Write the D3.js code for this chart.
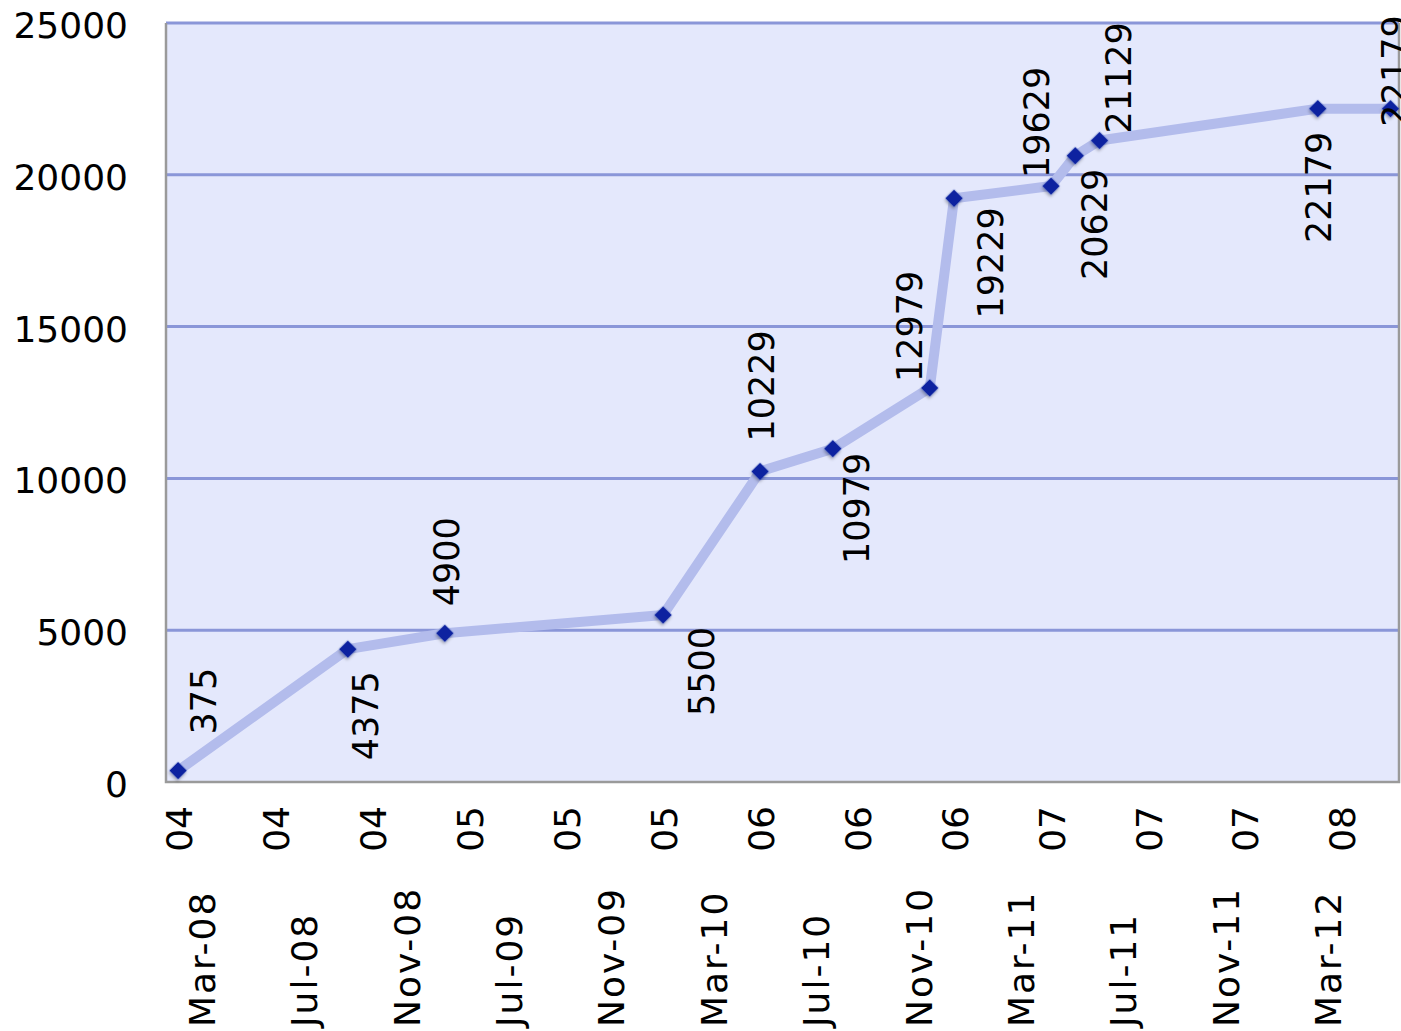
<!DOCTYPE html>
<html>
<head>
<meta charset="utf-8">
<script src="https://cdn.jsdelivr.net/npm/d3@7"></script>
<style>
  body { margin: 0; background: #fff; }
  svg text { font-family: "DejaVu Sans", Verdana, sans-serif; fill: #000; }
</style>
</head>
<body>
<div id="chart"></div>
<script>
// months of each reading (yyyy-mm) and the running total
var months = ["2004-01", "2004-08", "2004-12", "2005-09", "2006-01", "2006-04",
              "2006-08", "2006-09", "2007-01", "2007-02", "2007-03", "2007-12", "2008-03"];
var totals = [375, 4375, 4900, 5500, 10229, 10979, 12979, 19229, 19629, 20629, 21129, 22179, 22179];

// second row of category labels under the axis
var catLabels = ["Mar-08", "Jul-08", "Nov-08", "Jul-09", "Nov-09", "Mar-10",
                 "Jul-10", "Nov-10", "Mar-11", "Jul-11", "Nov-11", "Mar-12"];

var yTicks = [0, 5000, 10000, 15000, 20000, 25000];

// label placement: side of the point, sideways nudge, gap to the point
var labelSide = ["up", "down", "up", "down", "up", "down", "up", "down", "up", "down", "up", "down", "up"];
var labelNudge = [25, 18, 2, 38, 1, 24, -20, 36, -15, 19, 19, 1, 4];
var labelGap = [36, 22, 27, 12, 30, 4, 6, 9, 8, 13, 7, 23, -18];

var width = 1401, height = 1031;
var plotL = 166, plotR = 1399, plotT = 23, plotB = 782;

var svg = d3.select("#chart").append("svg")
    .attr("width", width)
    .attr("height", height);

var defs = svg.append("defs");
var shadow = defs.append("filter").attr("id", "shadow")
    .attr("x", "-50%").attr("y", "-50%").attr("width", "200%").attr("height", "200%");
shadow.append("feDropShadow")
    .attr("dx", 1).attr("dy", 2).attr("stdDeviation", 1.5)
    .attr("flood-color", "#000").attr("flood-opacity", 0.3);

var baseYear = 2004;
var monthIndex = function(s){
    var p = s.split("-");
    return (+p[0] - baseYear) * 12 + (+p[1] - 1);
};

var data = months.map(function(m, i){
    return { m: monthIndex(m), v: totals[i], side: labelSide[i],
             nudge: labelNudge[i], gap: labelGap[i] };
});

var x = d3.scaleLinear()
    .domain([-0.5, 50.35])
    .range([plotL, plotR]);

var y = d3.scaleLinear()
    .domain([0, 25000])
    .range([plotB, plotT]);

// plot background
svg.append("rect")
    .attr("x", plotL).attr("y", plotT)
    .attr("width", plotR - plotL).attr("height", plotB - plotT)
    .attr("fill", "#e4e8fc");

// gridlines
svg.append("g").selectAll("line")
    .data(yTicks.filter(d => d > 0))
    .enter().append("line")
    .attr("x1", plotL).attr("x2", plotR)
    .attr("y1", d => y(d)).attr("y2", d => y(d))
    .attr("stroke", "#8a96d8")
    .attr("stroke-width", 3);

// frame (left, bottom, right)
svg.append("path")
    .attr("d", "M" + plotL + "," + plotT + "V" + plotB + "H" + plotR + "V" + plotT)
    .attr("fill", "none")
    .attr("stroke", "#9a9a9a")
    .attr("stroke-width", 2.5);

// y axis labels
var yAxis = d3.axisLeft(y)
    .tickValues(yTicks)
    .tickSize(0)
    .tickPadding(38)
    .tickFormat(d3.format("d"));

svg.append("g")
    .attr("transform", "translate(" + plotL + ",0)")
    .call(yAxis)
    .call(g => g.select(".domain").remove())
    .selectAll("text")
    .attr("font-size", 36)
    .attr("font-family", "DejaVu Sans, Verdana, sans-serif")
    .attr("fill", "#000")
    .attr("dy", "0.4em");

// x axis: year ticks every four months
var xAxis = d3.axisBottom(x)
    .tickValues(d3.range(0, 49, 4))
    .tickSize(0)
    .tickFormat(d => d3.format("02d")((baseYear + Math.floor(d / 12)) % 100));

svg.append("g")
    .attr("transform", "translate(0," + plotB + ")")
    .call(xAxis)
    .call(g => g.select(".domain").remove())
    .selectAll("text")
    .attr("font-size", 36)
    .attr("font-family", "DejaVu Sans, Verdana, sans-serif")
    .attr("fill", "#000")
    .attr("text-anchor", "end")
    .attr("transform", "rotate(-90)")
    .attr("x", -24)
    .attr("y", 0)
    .attr("dy", "0.36em");

// second row of labels
var cat = d3.scalePoint()
    .domain(catLabels)
    .range([202, 1328]);

svg.append("g").selectAll("text")
    .data(catLabels)
    .enter().append("text")
    .attr("transform", d => "translate(" + cat(d) + ",1027) rotate(-90)")
    .attr("dy", "0.36em")
    .attr("font-size", 36)
    .attr("letter-spacing", 2)
    .text(d => d);

// the line
var line = d3.line()
    .x(d => x(d.m))
    .y(d => y(d.v));

svg.append("path")
    .datum(data)
    .attr("d", line)
    .attr("fill", "none")
    .attr("stroke", "#b3bcec")
    .attr("stroke-width", 10)
    .attr("stroke-linejoin", "round");

// diamond markers
svg.append("g").selectAll("rect")
    .data(data)
    .enter().append("rect")
    .attr("x", -6.2).attr("y", -6.2)
    .attr("width", 12.4).attr("height", 12.4)
    .attr("fill", "#0a23a0")
    .attr("filter", "url(#shadow)")
    .attr("transform", d => "translate(" + x(d.m) + "," + y(d.v) + ") rotate(45)");

// value labels, rotated, alternating above and below
svg.append("g").selectAll("text")
    .data(data)
    .enter().append("text")
    .attr("transform", d => "translate(" + (x(d.m) + d.nudge) + "," +
        (y(d.v) + (d.side == "up" ? -d.gap : d.gap)) + ") rotate(-90)")
    .attr("text-anchor", d => d.side == "up" ? "start" : "end")
    .attr("dy", "0.36em")
    .attr("font-size", 35)
    .text(d => d.v);
</script>
</body>
</html>
